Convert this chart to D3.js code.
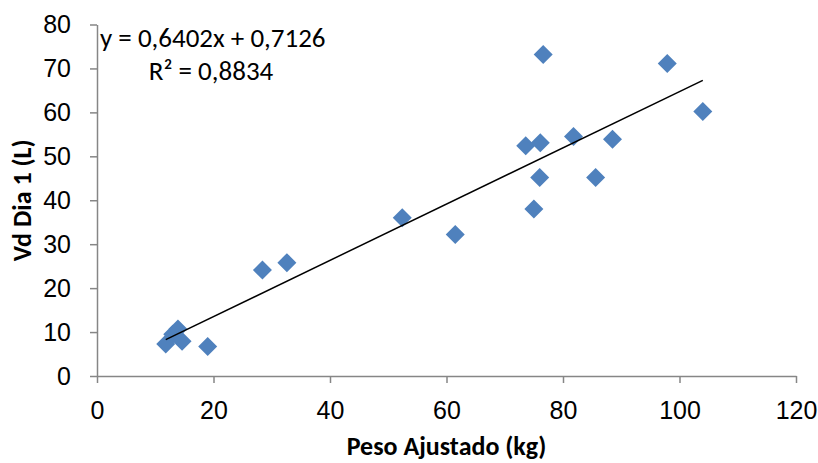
<!DOCTYPE html>
<html>
<head>
<meta charset="utf-8">
<script src="https://cdn.jsdelivr.net/npm/d3@7"></script>
<style>
  body { margin: 0; background: #fff; }
  svg { font-family: Carlito, Calibri, "Open Sans", sans-serif; }
</style>
</head>
<body>
<div id="chart"></div>
<script>
// Peso Ajustado (kg) vs Vd Dia 1 (L)
const pesoAjustado = [11.8, 13.0, 13.9, 14.6, 19.0, 28.4, 32.6, 52.4, 61.5, 73.6, 75.0, 76.0, 76.1, 76.6, 81.8, 85.6, 88.5, 97.9, 104.0];
const vdDia1 = [7.3, 9.5, 10.7, 7.9, 6.7, 24.1, 25.8, 36.0, 32.2, 52.4, 38.0, 45.2, 53.1, 73.2, 54.5, 45.2, 53.9, 71.1, 60.2];
const xTicks = [0, 20, 40, 60, 80, 100, 120];
const yTicks = [0, 10, 20, 30, 40, 50, 60, 70, 80];
const slope = 0.6402, intercept = 0.7126;
const eqLabel = "y = 0,6402x + 0,7126";
const r2Label = "R² = 0,8834";

const width = 818, height = 463;
const axisColor = "#868686";
const pointColor = "#4f81bd";

const svg = d3.select("#chart").append("svg")
  .attr("width", width)
  .attr("height", height);

const x = d3.scaleLinear().domain([0, 120]).range([97, 796]);
const y = d3.scaleLinear().domain([0, 80]).range([376, 24.5]);

const fmt = d => String(d);

// x axis
const xAxis = svg.append("g")
  .attr("transform", `translate(0,${y(0)})`)
  .call(d3.axisBottom(x).tickValues(xTicks).tickSize(7).tickSizeOuter(0).tickFormat(fmt).tickPadding(0));

// y axis
const yAxis = svg.append("g")
  .attr("transform", `translate(${x(0)},0)`)
  .call(d3.axisLeft(y).tickValues(yTicks).tickSize(7).tickSizeOuter(0).tickFormat(fmt).tickPadding(19));

[xAxis, yAxis].forEach(g => {
  g.select(".domain").attr("stroke", axisColor).attr("stroke-width", 1.5);
  g.selectAll(".tick line").attr("stroke", axisColor).attr("stroke-width", 1.5);
  g.selectAll(".tick text")
    .attr("fill", "#000")
    .style("font-size", "25px");
});
xAxis.selectAll(".tick text").attr("y", 43).attr("dy", null);
yAxis.selectAll(".tick text").attr("dy", "0.32em");

// points
const diamond = 9.5;
svg.append("g").selectAll("path")
  .data(pesoAjustado.map((v, i) => [v, vdDia1[i]]))
  .join("path")
  .attr("transform", d => `translate(${x(d[0])},${y(d[1])})`)
  .attr("d", `M0,${-diamond}L${diamond},0L0,${diamond}L${-diamond},0Z`)
  .attr("fill", pointColor);

// trend line
const xMin = d3.min(pesoAjustado), xMax = d3.max(pesoAjustado);
svg.append("line")
  .attr("x1", x(xMin)).attr("y1", y(slope * xMin + intercept))
  .attr("x2", x(xMax)).attr("y2", y(slope * xMax + intercept))
  .attr("stroke", "#000")
  .attr("stroke-width", 1.5);

// equation
svg.append("text")
  .attr("x", 100).attr("y", 47)
  .style("font-size", "27px")
  .text(eqLabel);
svg.append("text")
  .attr("x", 211).attr("y", 80)
  .attr("text-anchor", "middle")
  .style("font-size", "27px")
  .text(r2Label);

// axis titles
svg.append("text")
  .attr("x", x(60)).attr("y", 455)
  .attr("text-anchor", "middle")
  .style("font-size", "26px")
  .style("font-weight", "bold")
  .text("Peso Ajustado (kg)");

svg.append("text")
  .attr("transform", `translate(31,${(y(0) + y(80)) / 2}) rotate(-90)`)
  .attr("text-anchor", "middle")
  .style("font-size", "26px")
  .style("font-weight", "bold")
  .text("Vd Dia 1 (L)");
</script>
</body>
</html>
